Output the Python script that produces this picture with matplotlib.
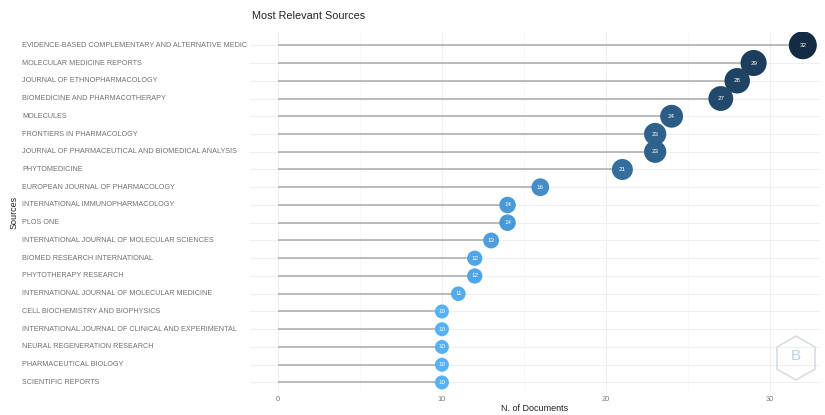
import math
import matplotlib
matplotlib.use("Agg")
import matplotlib.pyplot as plt
import matplotlib.transforms as mtransforms
from matplotlib.colors import LinearSegmentedColormap, Normalize
from matplotlib.patches import Polygon

# Data
#
sources = [
    "EVIDENCE-BASED COMPLEMENTARY AND ALTERNATIVE MEDIC",
    "MOLECULAR MEDICINE REPORTS",
    "JOURNAL OF ETHNOPHARMACOLOGY",
    "BIOMEDICINE AND PHARMACOTHERAPY",
    "MOLECULES",
    "FRONTIERS IN PHARMACOLOGY",
    "JOURNAL OF PHARMACEUTICAL AND BIOMEDICAL ANALYSIS",
    "PHYTOMEDICINE",
    "EUROPEAN JOURNAL OF PHARMACOLOGY",
    "INTERNATIONAL IMMUNOPHARMACOLOGY",
    "PLOS ONE",
    "INTERNATIONAL JOURNAL OF MOLECULAR SCIENCES",
    "BIOMED RESEARCH INTERNATIONAL",
    "PHYTOTHERAPY RESEARCH",
    "INTERNATIONAL JOURNAL OF MOLECULAR MEDICINE",
    "CELL BIOCHEMISTRY AND BIOPHYSICS",
    "INTERNATIONAL JOURNAL OF CLINICAL AND EXPERIMENTAL",
    "NEURAL REGENERATION RESEARCH",
    "PHARMACEUTICAL BIOLOGY",
    "SCIENTIFIC REPORTS",
]
documents = [32, 29, 28, 27, 24, 23, 23, 21, 16, 14, 14, 13, 12, 12, 11, 10, 10, 10, 10, 10]
x_ticks = [0, 10, 20, 30]

plt.rcParams["font.family"] = ["Liberation Sans", "DejaVu Sans"]

fig = plt.figure(figsize=(8.25, 4.15), dpi=100)
ax = fig.add_axes([0.303, 0.057, 0.691, 0.866])

rows = list(range(len(sources)))
cmap = LinearSegmentedColormap.from_list("gg", ["#56B1F7", "#132B43"])
norm = Normalize(vmin=min(documents), vmax=max(documents))

# Background grid
#
for x in x_ticks:
    ax.axvline(x, color="#efefef", lw=0.8, zorder=0)
for x in [5, 15, 25]:
    ax.axvline(x, color="#f6f6f6", lw=0.6, zorder=0)
for r in rows:
    ax.axhline(r, color="#efefef", lw=0.8, zorder=0)

# Lollipop stems
#
ax.hlines(rows, 0, documents, color="#aaaaaa", lw=1.1, zorder=1)

# Points sized and coloured by count
#
lo, hi = min(documents), max(documents)
sizes = []
for v in documents:
    d_pt = (14 + (v - lo) / (hi - lo) * 14) * 0.72
    sizes.append(d_pt ** 2)
ax.scatter(documents, rows, s=sizes, c=[cmap(norm(v)) for v in documents],
           zorder=3, linewidths=0)
for r, v in zip(rows, documents):
    ax.text(v, r, str(v), color="white", fontsize=4.5, ha="center",
            va="center", zorder=4)

ax.set_xlim(-1.7, 33.05)
ax.set_ylim(len(sources) - 0.5, -0.75)

# Axis styling
#
for spine in ax.spines.values():
    spine.set_visible(False)
ax.set_xticks(x_ticks)
ax.set_xticklabels([str(x) for x in x_ticks], fontsize=5.3, color="#777777")
ax.tick_params(axis="x", length=0, pad=3)
ax.set_yticks([])

# Left-aligned source labels
#
trans = mtransforms.blended_transform_factory(fig.transFigure, ax.transData)
for r, name in zip(rows, sources):
    ax.text(22 / 825, r, name, transform=trans, fontsize=5.2, color="#707070",
            ha="left", va="center")

ax.set_xlabel("N. of Documents", fontsize=6.5, color="#222222", labelpad=1)
fig.text(14 / 825, 0.487, "Sources", rotation=90, fontsize=6.5,
         color="#222222", ha="center", va="center")
fig.text(252 / 825, 1 - 16 / 415, "Most Relevant Sources", fontsize=7.8,
         color="#222222", ha="left", va="center")

# Faint logo watermark (pointy-top hexagon, pixel coordinates)
#
cx, cy, rad = 796, 415 - 358, 22
pts = [(cx + rad * math.cos(math.radians(90 + 60 * k)),
        cy + rad * math.sin(math.radians(90 + 60 * k))) for k in range(6)]
hexagon = Polygon(pts, closed=True, transform=mtransforms.IdentityTransform(),
                  facecolor="none", edgecolor="#d8dde2", lw=1.2)
fig.patches.append(hexagon)
fig.text(cx / 825, (cy + 2) / 415, "B", fontsize=11, color="#bcd4e6",
         ha="center", va="center")

plt.savefig("out.png", dpi=100, facecolor="white")
plt.close(fig)
